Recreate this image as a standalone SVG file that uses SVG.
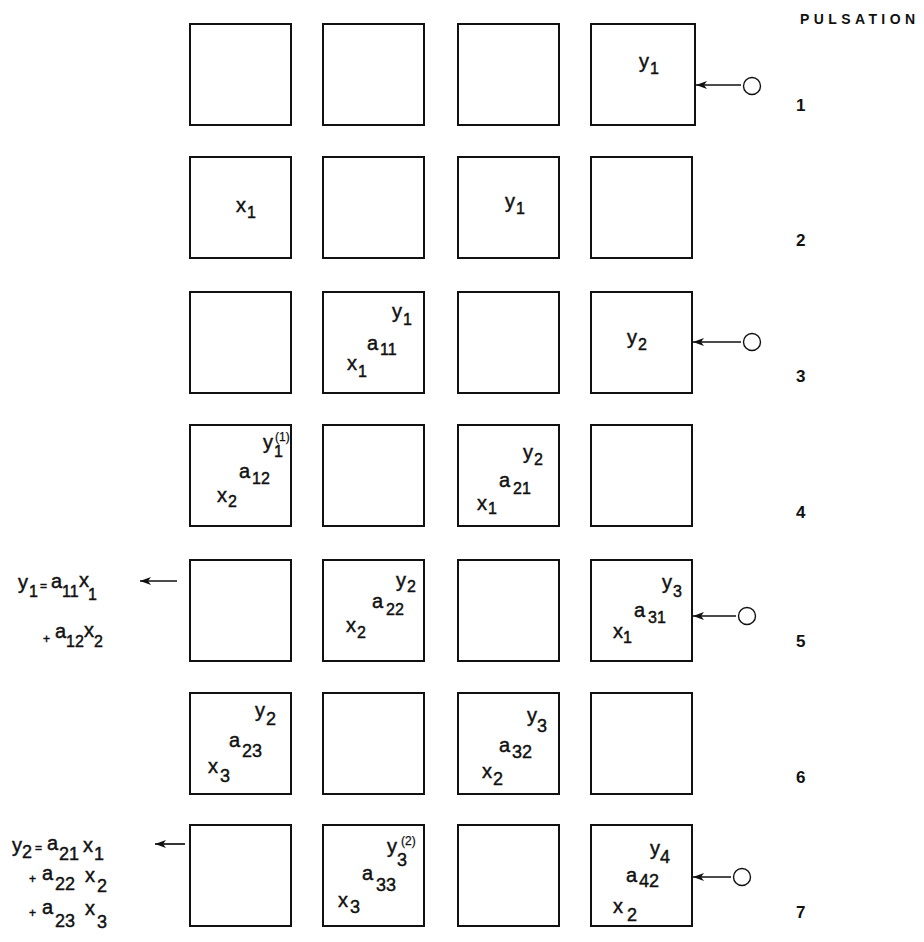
<svg xmlns="http://www.w3.org/2000/svg" width="924" height="942" viewBox="0 0 924 942">
<style>
text{font-family:"Liberation Sans",Arial,sans-serif;fill:#111;stroke:#111;stroke-width:0.45}
.m{font-size:20px}
.s{font-size:16px}
.s2{font-size:18px}
.sp{font-size:12px;stroke-width:0.25}
.op{font-size:12px}
.n{font-size:17px;font-weight:bold;stroke-width:0}
.h{font-size:14px;font-weight:bold;letter-spacing:4.4px;stroke-width:0}
.box{fill:#fff;stroke:#111;stroke-width:2}
.src{fill:#fff;stroke:#111;stroke-width:1.4}
.c{stroke:#111;stroke-width:1.7;fill:none;marker-end:url(#ah)}
</style>
<defs>
<marker id="ah" markerUnits="userSpaceOnUse" markerWidth="12" markerHeight="9" refX="11" refY="4" orient="auto">
<path d="M0,0 L11,4 L0,8 L3,4 z" fill="#111"/>
</marker>
</defs>
<rect width="924" height="942" fill="#fff"/>

<g id="heading"><text class="h" x="800" y="24">PULSATION</text></g>

<g id="row-numbers">
<text class="n" x="796" y="111">1</text>
<text class="n" x="796" y="246">2</text>
<text class="n" x="796" y="382">3</text>
<text class="n" x="796" y="518">4</text>
<text class="n" x="796" y="647">5</text>
<text class="n" x="796" y="783">6</text>
<text class="n" x="796" y="918">7</text>
</g>

<!-- Row 1 -->
<g id="r1c1"><rect class="box" x="190" y="24" width="101" height="101"/></g>
<g id="r1c2"><rect class="box" x="323" y="24" width="101" height="101"/></g>
<g id="r1c3"><rect class="box" x="458" y="24" width="101" height="101"/></g>
<g id="r1c4"><rect class="box" x="591" y="24" width="104" height="101"/>
<text><tspan class="m" x="639" y="68">y</tspan><tspan class="s" x="650" y="74">1</tspan></text></g>

<!-- Row 2 -->
<g id="r2c1"><rect class="box" x="190" y="157" width="101" height="101"/>
<text><tspan class="m" x="236" y="212">x</tspan><tspan class="s" x="247" y="218">1</tspan></text></g>
<g id="r2c2"><rect class="box" x="323" y="157" width="101" height="101"/></g>
<g id="r2c3"><rect class="box" x="458" y="157" width="101" height="101"/>
<text><tspan class="m" x="505" y="208">y</tspan><tspan class="s" x="516" y="214">1</tspan></text></g>
<g id="r2c4"><rect class="box" x="591" y="157" width="101" height="101"/></g>

<!-- Row 3 -->
<g id="r3c1"><rect class="box" x="190" y="292" width="101" height="101"/></g>
<g id="r3c2"><rect class="box" x="323" y="292" width="101" height="101"/>
<text><tspan class="m" x="392" y="318">y</tspan><tspan class="s" x="403" y="325">1</tspan></text>
<text><tspan class="m" x="367" y="350">a</tspan><tspan class="s" x="380" y="355">11</tspan></text>
<text><tspan class="m" x="347" y="370">x</tspan><tspan class="s" x="358" y="377">1</tspan></text></g>
<g id="r3c3"><rect class="box" x="458" y="292" width="101" height="101"/></g>
<g id="r3c4"><rect class="box" x="591" y="292" width="101" height="101"/>
<text><tspan class="m" x="627" y="344">y</tspan><tspan class="s" x="638" y="350">2</tspan></text></g>

<!-- Row 4 -->
<g id="r4c1"><rect class="box" x="190" y="425" width="101" height="101"/>
<text><tspan class="m" x="263" y="449">y</tspan><tspan class="s" x="274" y="457">1</tspan><tspan class="sp" x="275" y="441">(1)</tspan></text>
<text><tspan class="m" x="239" y="478">a</tspan><tspan class="s" x="252" y="484">12</tspan></text>
<text><tspan class="m" x="217" y="502">x</tspan><tspan class="s" x="228" y="507">2</tspan></text></g>
<g id="r4c2"><rect class="box" x="323" y="425" width="101" height="101"/></g>
<g id="r4c3"><rect class="box" x="458" y="425" width="101" height="101"/>
<text><tspan class="m" x="523" y="459">y</tspan><tspan class="s" x="534" y="465">2</tspan></text>
<text><tspan class="m" x="499" y="487">a</tspan><tspan class="s" x="513" y="494">21</tspan></text>
<text><tspan class="m" x="477" y="510">x</tspan><tspan class="s" x="488" y="514">1</tspan></text></g>
<g id="r4c4"><rect class="box" x="591" y="425" width="101" height="101"/></g>

<!-- Row 5 -->
<g id="r5c1"><rect class="box" x="190" y="560" width="101" height="101"/></g>
<g id="r5c2"><rect class="box" x="323" y="560" width="101" height="101"/>
<text><tspan class="m" x="396" y="587">y</tspan><tspan class="s" x="407" y="592">2</tspan></text>
<text><tspan class="m" x="372" y="608">a</tspan><tspan class="s" x="386" y="615">22</tspan></text>
<text><tspan class="m" x="346" y="632">x</tspan><tspan class="s" x="357" y="638">2</tspan></text></g>
<g id="r5c3"><rect class="box" x="458" y="560" width="101" height="101"/></g>
<g id="r5c4"><rect class="box" x="591" y="560" width="101" height="101"/>
<text><tspan class="m" x="662" y="589">y</tspan><tspan class="s" x="673" y="597">3</tspan></text>
<text><tspan class="m" x="634" y="617">a</tspan><tspan class="s" x="648" y="623">31</tspan></text>
<text><tspan class="m" x="613" y="638">x</tspan><tspan class="s" x="623" y="643">1</tspan></text></g>

<!-- Row 6 -->
<g id="r6c1"><rect class="box" x="190" y="693" width="101" height="101"/>
<text><tspan class="m" x="255" y="717">y</tspan><tspan class="s2" x="266" y="725">2</tspan></text>
<text><tspan class="m" x="229" y="747">a</tspan><tspan class="s2" x="242" y="757">23</tspan></text>
<text><tspan class="m" x="208" y="773">x</tspan><tspan class="s2" x="220" y="782">3</tspan></text></g>
<g id="r6c2"><rect class="box" x="323" y="693" width="101" height="101"/></g>
<g id="r6c3"><rect class="box" x="458" y="693" width="101" height="101"/>
<text><tspan class="m" x="527" y="722">y</tspan><tspan class="s2" x="537" y="732">3</tspan></text>
<text><tspan class="m" x="499" y="752">a</tspan><tspan class="s2" x="512" y="758">32</tspan></text>
<text><tspan class="m" x="482" y="778">x</tspan><tspan class="s2" x="493" y="785">2</tspan></text></g>
<g id="r6c4"><rect class="box" x="591" y="693" width="101" height="101"/></g>

<!-- Row 7 -->
<g id="r7c1"><rect class="box" x="190" y="825" width="101" height="101"/></g>
<g id="r7c2"><rect class="box" x="323" y="825" width="101" height="101"/>
<text><tspan class="m" x="387" y="853">y</tspan><tspan class="s2" x="397" y="866">3</tspan><tspan class="sp" x="401" y="845">(2)</tspan></text>
<text><tspan class="m" x="362" y="880">a</tspan><tspan class="s2" x="376" y="891">33</tspan></text>
<text><tspan class="m" x="338" y="907">x</tspan><tspan class="s2" x="350" y="913">3</tspan></text></g>
<g id="r7c3"><rect class="box" x="458" y="825" width="101" height="101"/></g>
<g id="r7c4"><rect class="box" x="591" y="825" width="101" height="101"/>
<text><tspan class="m" x="650" y="855">y</tspan><tspan class="s2" x="660" y="863">4</tspan></text>
<text><tspan class="m" x="626" y="882">a</tspan><tspan class="s2" x="639" y="887">42</tspan></text>
<text><tspan class="m" x="613" y="913">x</tspan><tspan class="s2" x="627" y="921">2</tspan></text></g>

<!-- Sources -->
<g id="src1"><circle class="src" cx="752" cy="86" r="8.5"/></g>
<g id="src3"><circle class="src" cx="752" cy="342" r="8.5"/></g>
<g id="src5"><circle class="src" cx="747" cy="616" r="8.5"/></g>
<g id="src7"><circle class="src" cx="742" cy="877" r="8.5"/></g>

<!-- Output equations -->
<g id="eq1">
<text><tspan class="m" x="18" y="589">y</tspan><tspan class="s" x="29" y="597">1</tspan><tspan class="op" x="40" y="590">=</tspan><tspan class="m" x="51" y="588">a</tspan><tspan class="s" x="62" y="597">11</tspan><tspan class="m" x="79" y="587">x</tspan><tspan class="s" x="88" y="600">1</tspan></text>
<text><tspan class="op" x="43" y="643">+</tspan><tspan class="m" x="55" y="638">a</tspan><tspan class="s" x="66" y="647">12</tspan><tspan class="m" x="84" y="637">x</tspan><tspan class="s" x="94" y="647">2</tspan></text>
</g>
<g id="eq2">
<text><tspan class="m" x="12" y="852">y</tspan><tspan class="s2" x="22" y="858">2</tspan><tspan class="op" x="35" y="852">=</tspan><tspan class="m" x="47" y="850">a</tspan><tspan class="s2" x="59" y="860">21</tspan><tspan class="m" x="83" y="852">x</tspan><tspan class="s2" x="94" y="860">1</tspan></text>
<text><tspan class="op" x="29" y="883">+</tspan><tspan class="m" x="42" y="880">a</tspan><tspan class="s2" x="55" y="890">22</tspan><tspan class="m" x="85" y="882">x</tspan><tspan class="s2" x="97" y="892">2</tspan></text>
<text><tspan class="op" x="29" y="917">+</tspan><tspan class="m" x="42" y="914">a</tspan><tspan class="s2" x="55" y="927">23</tspan><tspan class="m" x="85" y="915">x</tspan><tspan class="s2" x="97" y="928">3</tspan></text>
</g>

<g id="connectors">
<line class="c" x1="741" y1="85" x2="696" y2="85"/>
<line class="c" x1="741" y1="342" x2="693" y2="342"/>
<line class="c" x1="736" y1="616" x2="693" y2="616"/>
<line class="c" x1="731" y1="877" x2="693" y2="877"/>
<line class="c" x1="177" y1="581" x2="140" y2="581"/>
<line class="c" x1="185" y1="844" x2="155" y2="844"/>
</g>
</svg>
